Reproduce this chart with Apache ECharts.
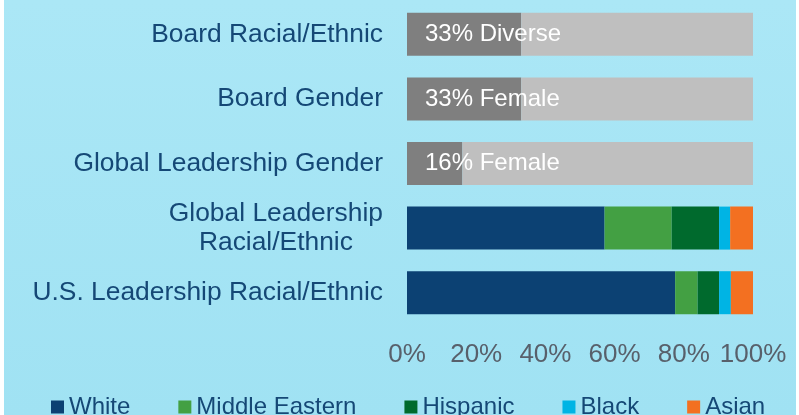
<!DOCTYPE html>
<html>
<head>
<meta charset="utf-8">
<script src="https://cdn.jsdelivr.net/npm/echarts@6/dist/echarts.min.js"></script>
<style>
  html, body { margin: 0; padding: 0; background: #fff; }
  #chart { position: absolute; left: 4px; top: 0; width: 792px; height: 415px; }
</style>
</head>
<body>
<div id="chart"></div>
<script>
// categories, top to bottom
const categories = ['Board Racial/Ethnic', 'Board Gender', 'Global Leadership Gender', 'Global Leadership\nRacial/Ethnic', 'U.S. Leadership Racial/Ethnic'];
// share bars (dark part + remainder)
const shareValues = [33, 33, 16, null, null];
const restValues = [67, 67, 84, null, null];
const shareLabels = ['33% Diverse', '33% Female', '16% Female', '', ''];
// racial / ethnic breakdown
const white = [null, null, null, 57.1, 77.5];
const middleEastern = [null, null, null, 19.4, 6.5];
const hispanic = [null, null, null, 13.7, 6.2];
const black = [null, null, null, 3.2, 3.4];
const asian = [null, null, null, 6.6, 6.4];
const xTicks = [0, 20, 40, 60, 80, 100];

const font = 'Liberation Sans, Arial, sans-serif';
const chart = echarts.init(document.getElementById('chart'));

function stackBar(name, data, color) {
  return { name: name, type: 'bar', stack: 'total', data: data, barWidth: 43, itemStyle: { color: color } };
}

chart.setOption({
  backgroundColor: {
    type: 'linear', x: 0, y: 0, x2: 0, y2: 1,
    colorStops: [{ offset: 0, color: '#abe7f6' }, { offset: 1, color: '#a0e2f3' }]
  },
  animation: false,
  textStyle: { fontFamily: font },
  grid: { left: 403, right: 43, top: 2, bottom: 90 },
  legend: {
    data: ['White', 'Middle Eastern', 'Hispanic', 'Black', 'Asian'],
    left: 47,
    top: 395,
    padding: 0,
    itemWidth: 13,
    itemHeight: 13,
    itemGap: 48,
    icon: 'rect',
    textStyle: { fontSize: 24, color: '#154876', fontFamily: font }
  },
  xAxis: {
    type: 'value',
    min: xTicks[0],
    max: xTicks[xTicks.length - 1],
    interval: 20,
    axisLine: { show: false },
    axisTick: { show: false },
    splitLine: { show: false },
    axisLabel: { formatter: '{value}%', fontSize: 26, color: '#58606b', margin: 17, fontFamily: font }
  },
  yAxis: {
    type: 'category',
    inverse: true,
    data: categories,
    axisLine: { show: false },
    axisTick: { show: false },
    axisLabel: {
      margin: 24,
      formatter: function (v) {
        return v.split('\n').map(function (s) { return '{c|' + s + '}'; }).join('\n');
      },
      rich: { c: { fontSize: 26.4, color: '#154876', align: 'center', lineHeight: 29, fontFamily: font } }
    }
  },
  series: [
    {
      name: 'share', type: 'bar', stack: 'total', data: shareValues, barWidth: 43,
      itemStyle: { color: '#7f7f7f' },
      label: {
        show: true, position: 'insideLeft', distance: 18,
        color: '#ffffff', fontSize: 24, fontFamily: font,
        formatter: function (p) { return shareLabels[p.dataIndex]; }
      },
      z: 2
    },
    stackBar('rest', restValues, '#bfbfbf'),
    stackBar('White', white, '#0c4173'),
    stackBar('Middle Eastern', middleEastern, '#43a043'),
    stackBar('Hispanic', hispanic, '#006a2d'),
    stackBar('Black', black, '#00b4e4'),
    stackBar('Asian', asian, '#f37021')
  ]
});
</script>
</body>
</html>
